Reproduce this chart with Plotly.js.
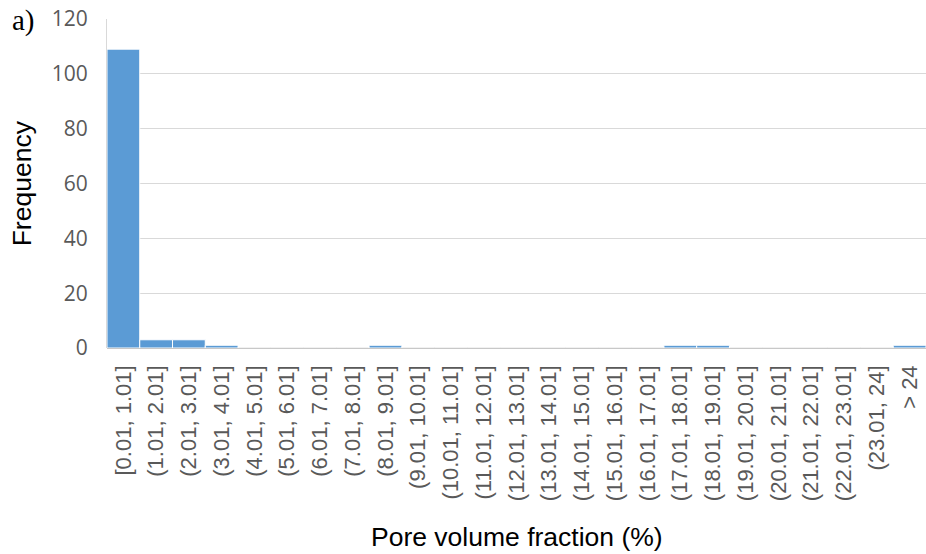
<!DOCTYPE html>
<html>
<head>
<meta charset="utf-8">
<script src="https://cdn.plot.ly/plotly-3.0.1.min.js"></script>
<style>html,body{margin:0;padding:0;background:#fff;}#chart{width:926px;height:554px;}</style>
</head>
<body>
<div id="chart"></div>
<script>
const categories = ["[0.01, 1.01]","(1.01, 2.01]","(2.01, 3.01]","(3.01, 4.01]","(4.01, 5.01]","(5.01, 6.01]","(6.01, 7.01]","(7.01, 8.01]","(8.01, 9.01]","(9.01, 10.01]","(10.01, 11.01]","(11.01, 12.01]","(12.01, 13.01]","(13.01, 14.01]","(14.01, 15.01]","(15.01, 16.01]","(16.01, 17.01]","(17.01, 18.01]","(18.01, 19.01]","(19.01, 20.01]","(20.01, 21.01]","(21.01, 22.01]","(22.01, 23.01]","(23.01, 24]","> 24"];
const frequency = [109,3,3,1,0,0,0,0,1,0,0,0,0,0,0,0,0,1,1,0,0,0,0,0,1];
const yTicks = [0,20,40,60,80,100,120];

const trace = {
  type: 'bar',
  x: categories,
  y: frequency,
  marker: {color: '#5B9BD5', line: {color: '#ffffff', width: 1}},
  hoverinfo: 'x+y'
};

const layout = {
  width: 926, height: 554,
  margin: {l: 107, r: 0, t: 19, b: 206},
  paper_bgcolor: '#ffffff', plot_bgcolor: '#ffffff',
  bargap: 0,
  showlegend: false,
  xaxis: {
    type: 'category',
    tickangle: -90,
    tickfont: {family: 'Liberation Sans, Arial, sans-serif', size: 22, color: '#595959'},
    ticks: '',
    ticklabelstandoff: 12,
    showgrid: false,
    showline: false,
    zeroline: false
  },
  yaxis: {
    range: [0, 120],
    tickvals: yTicks,
    ticktext: yTicks.map(String),
    tickfont: {family: 'Open Sans, Liberation Sans, sans-serif', size: 21, color: '#595959'},
    ticks: '',
    ticklabelstandoff: 14,
    showgrid: true,
    gridcolor: '#d9d9d9',
    gridwidth: 1,
    showline: true,
    linecolor: '#d9d9d9',
    linewidth: 1,
    zeroline: true,
    zerolinecolor: '#c8c8c8',
    zerolinewidth: 2,
    fixedrange: true
  },
  annotations: [
    {text: 'Pore volume fraction (%)', xref: 'paper', yref: 'paper', x: 0.5, y: -0.575, xanchor: 'center', yanchor: 'middle', showarrow: false, font: {family: 'Liberation Sans, Arial, sans-serif', size: 26.5, color: '#000000'}},
    {text: 'Frequency', xref: 'paper', yref: 'paper', x: -0.104, y: 0.5, xanchor: 'center', yanchor: 'middle', textangle: -90, showarrow: false, font: {family: 'Liberation Sans, Arial, sans-serif', size: 26.5, color: '#000000'}},
    {text: 'a)', xref: 'paper', yref: 'paper', x: -0.118, y: 0.995, xanchor: 'left', yanchor: 'middle', showarrow: false, font: {family: 'Liberation Serif, Times New Roman, serif', size: 29, color: '#000000'}}
  ]
};

Plotly.newPlot('chart', [trace], layout, {displayModeBar: false, staticPlot: true});
</script>
</body>
</html>
